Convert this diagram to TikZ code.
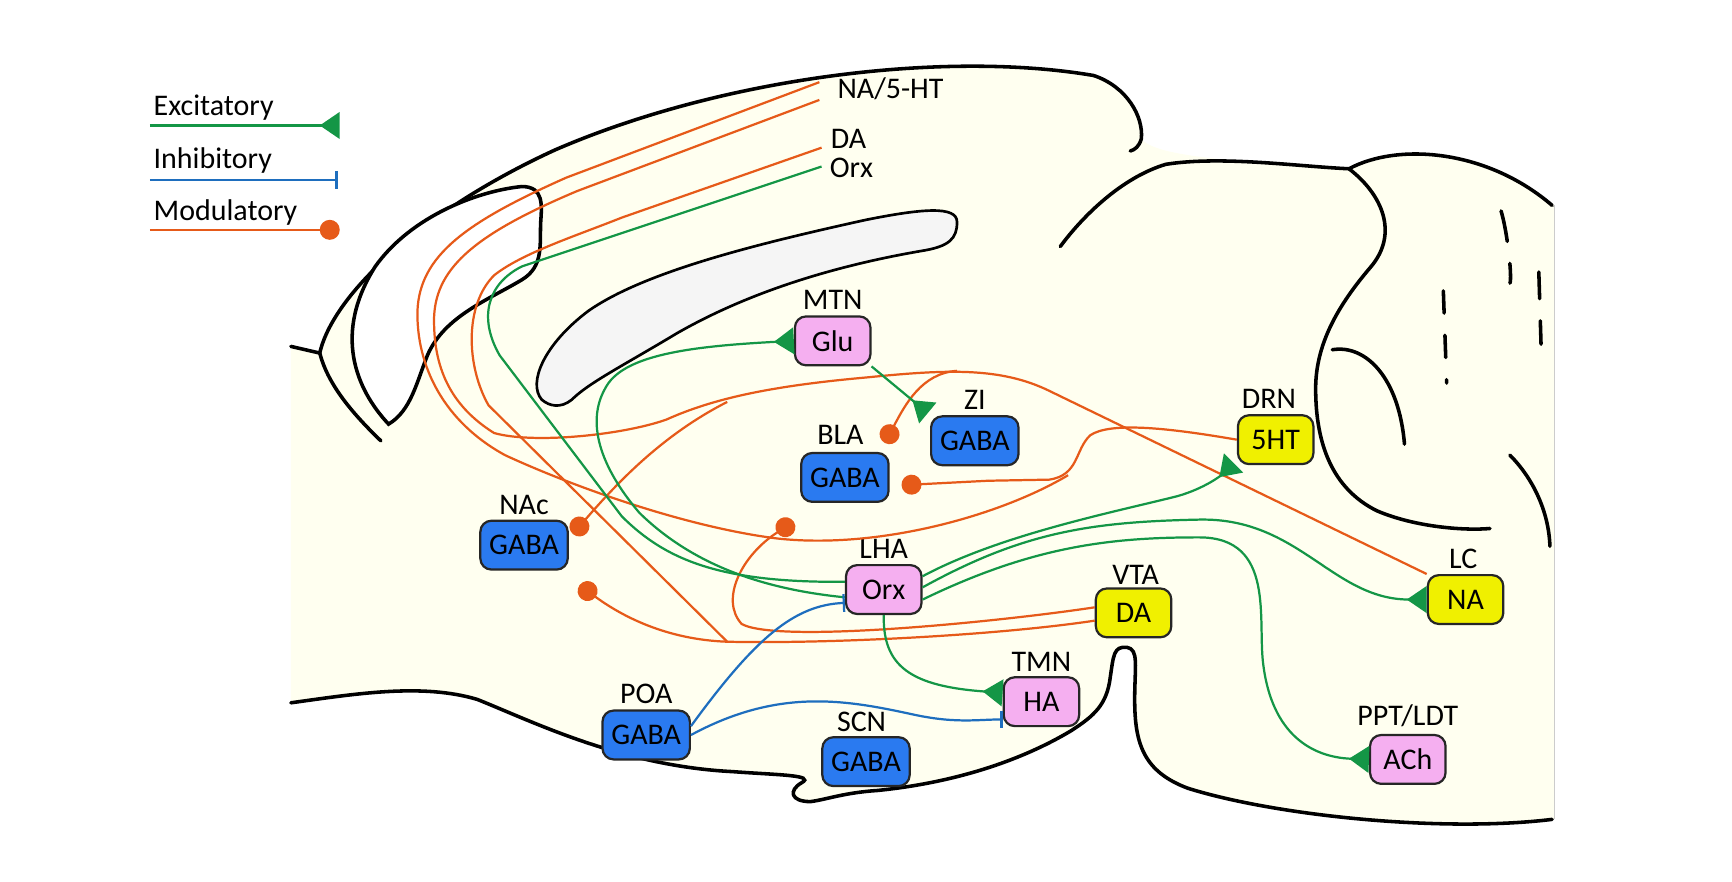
\documentclass[tikz,border=0pt]{standalone}
\usepackage{fontspec}
\setmainfont{Carlito}
\usetikzlibrary{arrows.meta,calc}
\definecolor{cream}{RGB}{255,255,240}
\definecolor{hippo}{RGB}{245,245,245}
\definecolor{org}{RGB}{230,90,25}
\definecolor{grn}{RGB}{20,150,70}
\definecolor{inh}{RGB}{30,110,190}
\definecolor{bblue}{RGB}{42,122,240}
\definecolor{bpink}{RGB}{245,175,240}
\definecolor{byel}{RGB}{240,240,0}
\begin{document}
\begin{tikzpicture}[x=0.5pt,y=-0.5pt,
  font=\fontsize{13.5}{15}\selectfont,
  box/.style={draw=black!85,line width=1pt,rounded corners=5pt,minimum height=22pt,minimum width=34pt,inner xsep=4pt,inner ysep=2pt},
  gaba/.style={box,fill=bblue},
  pk/.style={box,fill=bpink},
  yl/.style={box,fill=byel},
  lab/.style={inner sep=1pt},
  brain/.style={black,line width=1.6pt,line cap=round},
  exc/.style={grn,line width=1pt,-{Triangle[reversed,length=9pt,width=12pt]}},
  inhib/.style={inh,line width=1pt,-{Bar[width=8pt]}},
  mod/.style={org,line width=1pt,-{Circle[length=9pt]}},
  modl/.style={org,line width=1pt},
  excl/.style={grn,line width=1pt}]
\useasboundingbox (0,0) rectangle (1560,794);
% brain fill
\fill[cream] (262,312) -- (288,318) .. controls (300,265) and (380,190) .. (500,135)
 .. controls (650,70) and (850,45) .. (985,68) .. controls (1015,78) and (1030,105) .. (1028,125)
 .. controls (1040,140) and (1100,145) .. (1215,152)
 .. controls (1260,128) and (1340,135) .. (1400,185) -- (1400,738)
 .. controls (1300,750) and (1150,735) .. (1070,710) .. controls (1030,695) and (1022,670) .. (1022,630)
 .. controls (1022,600) and (1026,585) .. (1015,583) .. controls (1003,582) and (1003,590) .. (1000,610)
 .. controls (997,635) and (985,645) .. (965,658) .. controls (920,685) and (860,705) .. (790,712)
 .. controls (760,714) and (745,720) .. (730,722) .. controls (712,722) and (710,712) .. (722,705)
 .. controls (735,698) and (700,698) .. (660,695) .. controls (560,690) and (480,650) .. (430,630)
 .. controls (380,615) and (320,625) .. (262,633) -- cycle;
\draw[gray!40,line width=0.6pt] (1400,185) -- (1400,738);
% outlines
\draw[brain] (262,312) -- (288,318) .. controls (300,265) and (380,190) .. (500,135)
 .. controls (650,70) and (850,45) .. (985,68) .. controls (1015,78) and (1030,105) .. (1028,125)
 .. controls (1026,132) and (1022,135) .. (1018,136);
\draw[brain] (288,318) .. controls (295,345) and (315,370) .. (343,397);
\draw[brain] (955,222) .. controls (975,195) and (1010,160) .. (1050,148) .. controls (1100,140) and (1170,150) .. (1215,152)
 .. controls (1260,128) and (1340,135) .. (1398,185);
\draw[brain] (1398,738) .. controls (1300,750) and (1150,735) .. (1070,710) .. controls (1030,695) and (1022,670) .. (1022,630)
 .. controls (1022,600) and (1026,585) .. (1015,583) .. controls (1003,582) and (1003,590) .. (1000,610)
 .. controls (997,635) and (985,645) .. (965,658) .. controls (920,685) and (860,705) .. (790,712)
 .. controls (760,714) and (745,720) .. (730,722) .. controls (712,722) and (710,712) .. (722,705)
 .. controls (735,698) and (700,698) .. (660,695) .. controls (560,690) and (480,650) .. (430,630)
 .. controls (380,615) and (320,625) .. (262,633);
% PFC
\draw[brain,fill=white] (350,382) .. controls (320,350) and (300,300) .. (338,240) .. controls (370,195) and (430,172) .. (470,168)
 .. controls (490,168) and (488,185) .. (487,200) .. controls (486,220) and (490,240) .. (470,252)
 .. controls (440,270) and (400,285) .. (385,320) .. controls (375,345) and (370,370) .. (350,382) -- cycle;
% hippocampus
\draw[black,line width=1.2pt,fill=hippo] (488,360) .. controls (475,345) and (490,310) .. (530,280)
 .. controls (580,245) and (680,220) .. (780,198) .. controls (830,188) and (862,185) .. (862,200)
 .. controls (862,215) and (855,222) .. (830,226) .. controls (760,238) and (680,260) .. (610,300)
 .. controls (560,330) and (530,345) .. (515,360) .. controls (505,368) and (495,366) .. (488,360) -- cycle;
% cerebellum
\draw[brain] (1215,152) .. controls (1245,175) and (1260,210) .. (1235,240) .. controls (1205,275) and (1185,310) .. (1185,350)
 .. controls (1185,400) and (1200,440) .. (1240,460) .. controls (1275,475) and (1320,478) .. (1342,476);
\draw[brain] (1200,315) .. controls (1230,310) and (1260,340) .. (1265,400);
\draw[brain] (1360,410) .. controls (1380,430) and (1395,460) .. (1396,492);
\draw[brain,dash pattern=on 14pt off 10pt] (1352,190) .. controls (1358,210) and (1362,250) .. (1360,255);
\draw[brain,dash pattern=on 10pt off 10pt] (1300,262) -- (1303,345);
\draw[brain,dash pattern=on 12pt off 10pt] (1386,245) -- (1388,310);
% legend
\node[lab,anchor=west] (lexc) at (136,97) {Excitatory};
\node[lab,anchor=west] (linh) at (136,145) {Inhibitory};
\node[lab,anchor=west] (lmod) at (136,191) {Modulatory};
\coordinate (e1) at (135,113); \coordinate (e2) at (306,113);
\coordinate (i1) at (135,162); \coordinate (i2) at (304,162);
\coordinate (m1) at (135,207); \coordinate (m2) at (306,207);
\draw[exc] (e1) -- (e2);
\draw[inhib] (i1) -- (i2);
\draw[mod] (m1) -- (m2);
% boxes
\node[pk] (glu) at (750,307) {Glu};
\node[gaba] (zi) at (878,397) {GABA};
\node[gaba] (bla) at (761,430) {GABA};
\node[yl] (drn) at (1149,396) {5HT};
\node[gaba] (nac) at (472,491) {GABA};
\node[pk] (lha) at (796,531) {Orx};
\node[yl] (vta) at (1021,552) {DA};
\node[yl] (lc) at (1320,540) {NA};
\node[pk] (tmn) at (938,632) {HA};
\node[gaba] (poa) at (582,662) {GABA};
\node[gaba] (scn) at (780,686) {GABA};
\node[pk] (ppt) at (1268,684) {ACh};
\node[lab] (lmtn) at (750,270) {MTN};
\node[lab] (lzi) at (878,360) {ZI};
\node[lab] (lbla) at (757,392) {BLA};
\node[lab] (ldrn) at (1143,359) {DRN};
\node[lab] (lnac) at (472,455) {NAc};
\node[lab] (llha) at (796,494) {LHA};
\node[lab] (lvta) at (1023,518) {VTA};
\node[lab] (llc) at (1318,503) {LC};
\node[lab] (ltmn) at (938,596) {TMN};
\node[lab] (lpoa) at (582,625) {POA};
\node[lab] (lscn) at (776,650) {SCN};
\node[lab] (lppt) at (1268,645) {PPT/LDT};
\node[lab,anchor=west] (lnaht) at (752,80) {NA/5-HT};
\node[lab,anchor=west] (lda) at (746,125) {DA};
\node[lab,anchor=west] (lorx) at (745,151) {Orx};
\coordinate (na1) at (738,74);
\coordinate (na2) at (738,90);
\coordinate (da1) at (740,133);
\coordinate (orx1) at (740,150);
\coordinate (dot1) at (797,399);
\coordinate (dot2) at (812,437);
\coordinate (dot3) at (715,470);
\coordinate (dot4) at (516,481);
\coordinate (dot5) at (522,527);
\coordinate (j1) at (655,578);
% orange: LC
\draw[modl] (lc.north west) -- (945,352) .. controls (900,330) and (850,333) .. (780,340)
 .. controls (690,348) and (640,360) .. (600,378) .. controls (560,392) and (480,400) .. (445,390)
 .. controls (405,365) and (390,330) .. (391,285) .. controls (393,240) and (430,210) .. (520,172) -- (na2);
\draw[mod] (862,334) .. controls (830,336) and (815,365) .. (dot1);
\draw[mod] (655,362) .. controls (600,390) and (560,430) .. (dot4);
% orange: DRN
\draw[modl] (drn.west) .. controls (1050,385) and (1000,380) .. (982,392) .. controls (968,405) and (972,428) .. (945,432) -- (890,433);
\draw[mod] (890,433) -- (dot2);
\draw[modl] (962,428) .. controls (900,465) and (790,495) .. (700,485) .. controls (620,475) and (520,440) .. (455,410)
 .. controls (400,380) and (375,330) .. (376,280) .. controls (378,230) and (420,200) .. (510,160) -- (na1);
% orange: VTA
\draw[modl] ($(vta.west)+(0,7)$) .. controls (900,572) and (750,580) .. (j1) -- (440,365)
 .. controls (420,330) and (418,275) .. (445,248) .. controls (470,228) and (520,212) .. (560,196) -- (da1);
\draw[mod] (j1) .. controls (600,576) and (560,555) .. (dot5);
\draw[mod] ($(vta.west)+(0,-5)$) .. controls (900,560) and (700,580) .. (668,562) .. controls (648,540) and (668,500) .. (dot3);
% green
\draw[excl] ($(lha.west)+(0,-7)$) .. controls (650,525) and (600,505) .. (560,465) -- (450,320)
 .. controls (430,285) and (440,255) .. (470,240) -- (orx1);
\draw[exc] ($(lha.west)+(0,7)$) .. controls (680,530) and (620,505) .. (576,462) .. controls (540,420) and (528,380) .. (545,350)
 .. controls (560,320) and (620,312) .. (glu.west);
\draw[exc] (glu.south east) -- ($(zi.north west)+(-2,-2)$);
\draw[exc] ($(lha.east)+(0,-12)$) .. controls (900,482) and (1000,462) .. (1060,447) .. controls (1085,440) and (1100,428) .. ($(drn.south west)+(-3,-2)$);
\draw[exc] ($(lha.east)+(0,-2)$) .. controls (920,480) and (980,470) .. (1080,468) .. controls (1170,466) and (1200,540) .. (lc.west);
\draw[exc] ($(lha.east)+(0,9)$) .. controls (930,492) and (1000,484) .. (1080,484) .. controls (1150,484) and (1132,560) .. (1138,600)
 .. controls (1146,660) and (1180,682) .. (ppt.west);
\draw[exc] (lha.south) .. controls (795,600) and (820,618) .. ($(tmn.west)+(0,-8)$);
% blue
\draw[inhib] ($(poa.east)+(0,-8)$) .. controls (680,575) and (715,545) .. ($(lha.west)+(0,12)$);
\draw[inhib] (poa.east) .. controls (700,620) and (760,630) .. (820,643) .. controls (860,652) and (880,648) .. ($(tmn.west)+(0,16)$);
\end{tikzpicture}
\end{document}
